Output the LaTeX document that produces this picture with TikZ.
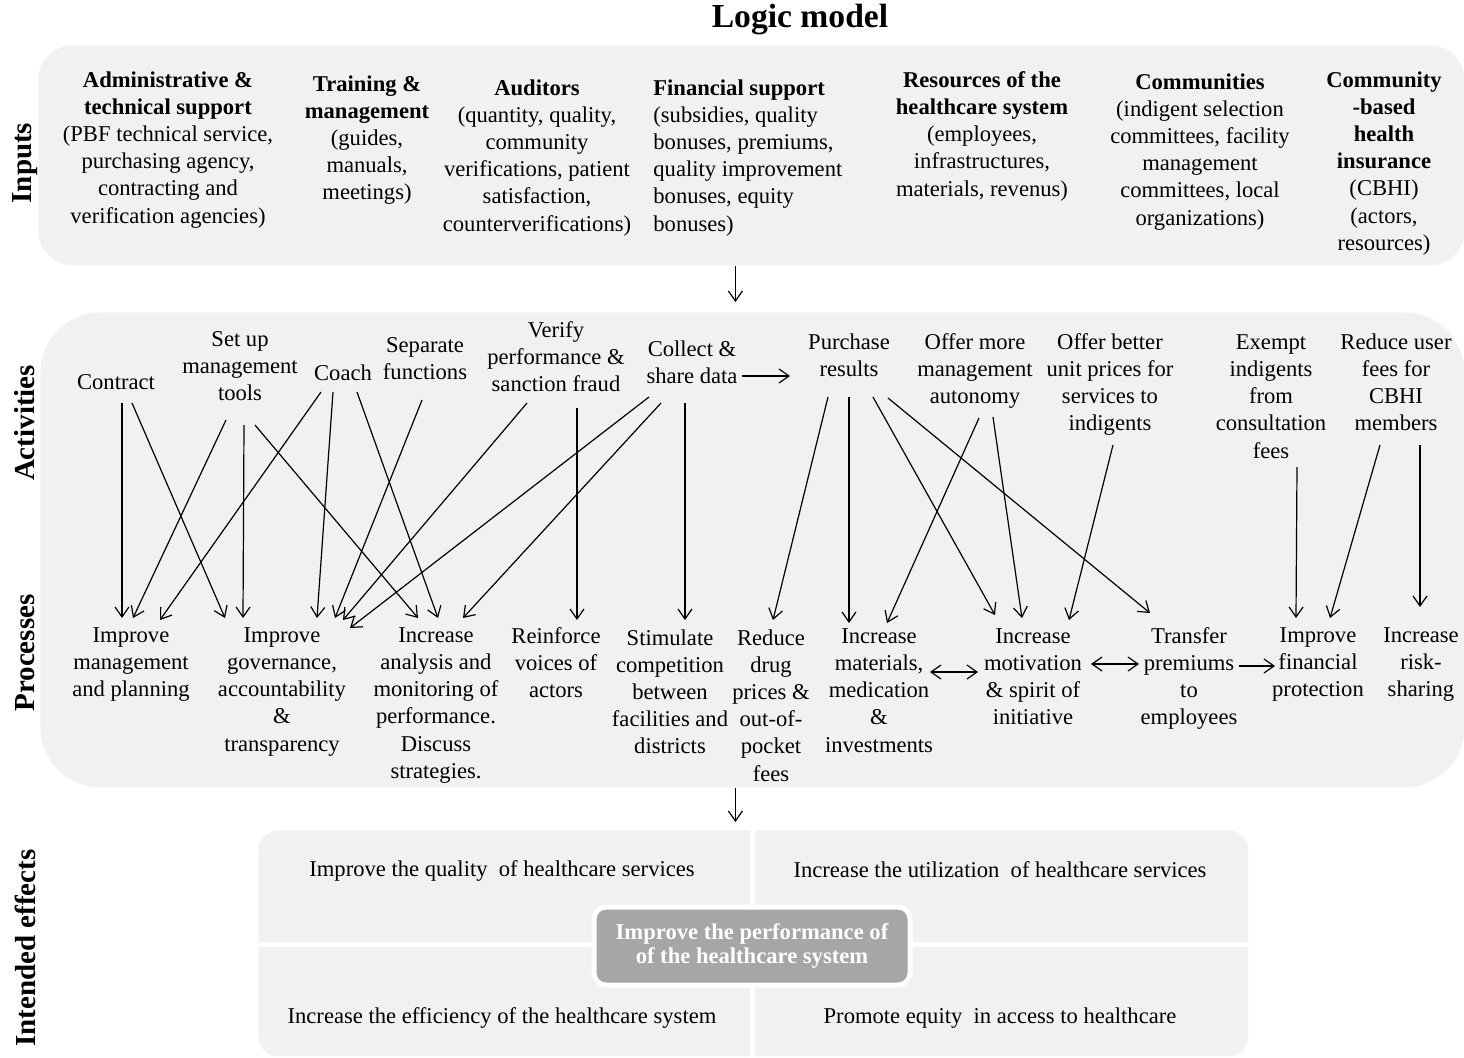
\documentclass[tikz,border=0pt]{standalone}
\usepackage{fontspec}
\setmainfont{Liberation Serif}
\usetikzlibrary{arrows.meta,calc}
\definecolor{panel}{RGB}{241,241,241}
\definecolor{boxgray}{RGB}{166,166,166}
\begin{document}
\begin{tikzpicture}[x=0.5pt,y=-0.5pt,
  txt/.style={inner sep=0pt, align=center, anchor=north, font=\fontsize{11.3}{13.6}\selectfont},
  side/.style={inner sep=0pt, rotate=90, font=\fontsize{14.5}{17}\selectfont\bfseries},
  panelbox/.style={fill=panel, draw=none, inner sep=0pt, anchor=north west},
  arr/.style={-{Straight Barb[length=5pt,width=7pt]}, line width=0.6pt},
  darr/.style={{Straight Barb[length=5pt,width=7pt]}-{Straight Barb[length=5pt,width=7pt]}, line width=0.6pt}
]
\useasboundingbox (0,0) rectangle (1464,1057);

% title
\node[inner sep=0pt, font=\fontsize{16.8}{20}\selectfont\bfseries] (title) at (800,20) {Logic model};

% panels
\node[panelbox, minimum width=713pt, minimum height=110pt, rounded corners=17pt] (inpanel) at (38,45) {};
\node[panelbox, minimum width=712pt, minimum height=237.5pt, rounded corners=30pt] (appanel) at (40,312) {};
\node[panelbox, minimum width=495pt, minimum height=113pt, rounded corners=10pt] (effects) at (258,830) {};

% side labels
\node[side] (linputs) at (25,163) {Inputs};
\node[side] (lact) at (25,423) {Activities};
\node[side] (lproc) at (25,653) {Processes};
\node[side] (leff) at (25,948) {Intended effects};

% inputs
\node[txt] (admin) at (168,71) {\textbf{Administrative \&}\\\textbf{technical support}\\(PBF technical service,\\purchasing agency,\\contracting and\\verification agencies)};
\node[txt] (training) at (367,75) {\textbf{Training \&}\\\textbf{management}\\(guides,\\manuals,\\meetings)};
\node[txt] (auditors) at (537,79) {\textbf{Auditors}\\(quantity, quality,\\community\\verifications, patient\\satisfaction,\\counterverifications)};
\node[txt, align=left, anchor=north west] (financial) at (653,79) {\textbf{Financial support}\\(subsidies, quality\\bonuses, premiums,\\quality improvement\\bonuses, equity\\bonuses)};
\node[txt] (resources) at (982,71) {\textbf{Resources of the}\\\textbf{healthcare system}\\(employees,\\infrastructures,\\materials, revenus)};
\node[txt] (communities) at (1200,73) {\textbf{Communities}\\(indigent selection\\committees, facility\\management\\committees, local\\organizations)};
\node[txt] (cbhiin) at (1384,71) {\textbf{Community}\\\textbf{-based}\\\textbf{health}\\\textbf{insurance}\\(CBHI)\\(actors,\\resources)};

% activities
\node[txt] (contract) at (116,374) {Contract};
\node[txt] (setup) at (240,331) {Set up\\management\\tools};
\node[txt] (coach) at (343,364) {Coach};
\node[txt] (separate) at (425,337) {Separate\\functions};
\node[txt] (verify) at (556,321) {Verify\\performance \&\\sanction fraud};
\node[txt] (collect) at (692,340) {Collect \&\\share data};
\node[txt] (purchase) at (849,333) {Purchase\\results};
\node[txt] (autonomy) at (975,333) {Offer more\\management\\autonomy};
\node[txt] (better) at (1110,333) {Offer better\\unit prices for\\services to\\indigents};
\node[txt] (exempt) at (1271,334) {Exempt\\indigents\\from\\consultation\\fees};
\node[txt] (reduceuser) at (1396,333) {Reduce user\\fees for\\CBHI\\members};

% processes
\node[txt] (impmgmt) at (131,627) {Improve\\management\\and planning};
\node[txt] (impgov) at (282,627) {Improve\\governance,\\accountability\\\&\\transparency};
\node[txt] (incanal) at (436,627) {Increase\\analysis and\\monitoring of\\performance.\\Discuss\\strategies.};
\node[txt] (reinforce) at (556,627) {Reinforce\\voices of\\actors};
\node[txt] (stimulate) at (670,629) {Stimulate\\competition\\between\\facilities and\\districts};
\node[txt] (reducedrug) at (771,629) {Reduce\\drug\\prices \&\\out-of-\\pocket\\fees};
\node[txt] (incmat) at (879,628) {Increase\\materials,\\medication\\\&\\investments};
\node[txt] (incmot) at (1033,628) {Increase\\motivation\\\& spirit of\\initiative};
\node[txt] (transfer) at (1189,627) {Transfer\\premiums\\to\\employees};
\node[txt] (impfin) at (1318,627) {Improve\\financial\\protection};
\node[txt] (risk) at (1421,627) {Increase\\risk-\\sharing};

% activity -> process arrows
\draw[arr] ($(contract.north)+(6,29)$) -- ($(impmgmt.north)+(-9,-9)$);
\draw[arr] ($(contract.north)+(16,29)$) -- ($(impgov.north)+(-57,-9)$);
\draw[arr] ($(setup.north)+(-14,89)$) -- ($(impmgmt.north)+(2,-9)$);
\draw[arr] ($(setup.north)+(4,94)$) -- ($(impgov.north)+(-39,-9)$);
\draw[arr] ($(setup.north)+(15,94)$) -- ($(incanal.north)+(-18,-9)$);
\draw[arr] ($(coach.north)+(-22,28)$) -- ($(impmgmt.north)+(29,-7)$);
\draw[arr] ($(coach.north)+(-10,28)$) -- ($(impgov.north)+(35,-9)$);
\draw[arr] ($(coach.north)+(14,28)$) -- ($(incanal.north)+(2,-9)$);
\draw[arr] ($(separate.north)+(-3,63)$) -- ($(impgov.north)+(53,-9)$);
\draw[arr] ($(verify.north)+(-29,82)$) -- ($(impgov.north)+(61,-7)$);
\draw[arr] ($(verify.north)+(21,87)$) -- ($(reinforce.north)+(21,-7)$);
\draw[arr] ($(collect.north)+(-43,57)$) -- ($(impgov.north)+(68,1)$);
\draw[arr] ($(collect.north)+(-31,63)$) -- ($(incanal.north)+(27,-9)$);
\draw[arr] ($(collect.north)+(-7,63)$) -- ($(stimulate.north)+(15,-9)$);
\draw[arr] ($(collect.north)+(50,36)$) -- ($(purchase.north)+(-59,43)$);
\draw[arr] ($(purchase.north)+(-21,64)$) -- ($(reducedrug.north)+(2,-9)$);
\draw[arr] ($(purchase.north)+(0,64)$) -- ($(incmat.north)+(-30,-5)$);
\draw[arr] ($(purchase.north)+(24,64)$) -- ($(incmot.north)+(-38,-13)$);
\draw[arr] ($(purchase.north)+(39,65)$) -- ($(transfer.north)+(-39,-14)$);
\draw[arr] ($(autonomy.north)+(4,85)$) -- ($(incmat.north)+(8,-5)$);
\draw[arr] ($(autonomy.north)+(18,84)$) -- ($(incmot.north)+(-11,-10)$);
\draw[arr] ($(better.north)+(3,112)$) -- ($(incmot.north)+(36,-8)$);
\draw[arr] ($(exempt.north)+(26,133)$) -- ($(impfin.north)+(-22,-9)$);
\draw[arr] ($(reduceuser.north)+(-16,112)$) -- ($(impfin.north)+(12,-9)$);
\draw[arr] ($(reduceuser.north)+(24,112)$) -- ($(risk.north)+(-1,-20)$);

% process <-> process
\draw[darr] ($(incmat.north)+(51,44)$) -- ($(incmot.north)+(-55,44)$);
\draw[darr] ($(incmot.north)+(58,36)$) -- ($(transfer.north)+(-50,37)$);
\draw[arr] ($(transfer.north)+(50,39)$) -- ($(impfin.north)+(-43,39)$);

% panel arrows
\draw[arr] ($(inpanel.south)+(-16,0)$) -- ($(appanel.north)+(-17,-10)$);
\draw[arr] ($(appanel.south)+(-17,0)$) -- ($(effects.north)+(-18,-8)$);

% intended effects
\draw[white, line width=2.5pt] ($(effects.north)+(-1,0)$) -- ($(effects.south)+(-1,0)$);
\draw[white, line width=2.5pt] ($(effects.west)+(0,1)$) -- ($(effects.east)+(0,1)$);
\node[txt, anchor=center] (quality) at (502,871) {Improve the quality\ \ of healthcare services};
\node[txt, anchor=center] (utilization) at (1000,870) {Increase the utilization\ \ of healthcare services};
\node[txt, anchor=center] (efficiency) at (502,1018) {Increase the efficiency of the healthcare system};
\node[txt, anchor=center] (equity) at (1000,1018) {Promote equity\ \ in access to healthcare};
\node[fill=boxgray, draw=white, line width=2.5pt, rounded corners=6pt, minimum width=158pt, minimum height=39pt, inner sep=0pt, text=white, align=center, font=\fontsize{11.3}{12}\selectfont\bfseries] (goal) at (752,946) {Improve the performance of\\of the healthcare system};
\end{tikzpicture}
\end{document}
